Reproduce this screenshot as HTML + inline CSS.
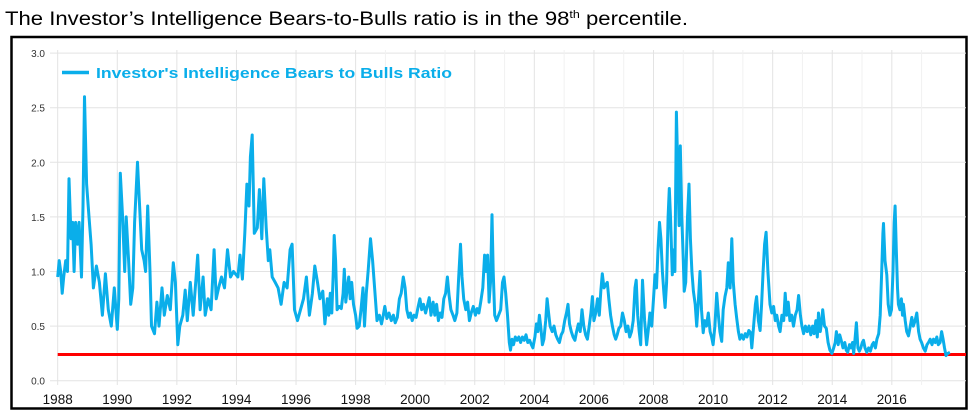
<!DOCTYPE html>
<html><head><meta charset="utf-8"><style>
html,body{margin:0;padding:0;background:#fff;}
svg{display:block;font-family:"Liberation Sans",Arial,sans-serif;}
</style></head><body>
<svg id="chart" width="970" height="415" viewBox="0 0 970 415">
<text x="5" y="25" font-size="19.5" fill="#000" textLength="683" lengthAdjust="spacingAndGlyphs">The Investor’s Intelligence Bears-to-Bulls ratio is in the 98<tspan font-size="11" dy="-7">th</tspan><tspan dy="7"> percentile.</tspan></text>
<rect x="11.5" y="37" width="955" height="371.5" fill="#fff" stroke="#000" stroke-width="2.5"/>
<g id="grid"></g><g id="axes"></g><g id="series"></g>
<g>
<line x1="62" y1="72.5" x2="89" y2="72.5" stroke="#0aaeea" stroke-width="3.5"/>
<text x="96" y="78" font-size="14.5" font-weight="bold" fill="#0aaeea" textLength="356" lengthAdjust="spacingAndGlyphs">Investor's Intelligence Bears to Bulls Ratio</text>
</g>
</svg>
<script>
const dates=[1988.0,1988.05,1988.1,1988.15,1988.2,1988.27,1988.33,1988.38,1988.45,1988.5,1988.55,1988.6,1988.67,1988.72,1988.8,1988.85,1988.9,1988.97,1989.05,1989.12,1989.2,1989.3,1989.4,1989.5,1989.6,1989.7,1989.8,1989.9,1990.0,1990.05,1990.1,1990.18,1990.25,1990.3,1990.38,1990.45,1990.52,1990.58,1990.68,1990.75,1990.82,1990.9,1990.95,1991.02,1991.1,1991.15,1991.25,1991.33,1991.4,1991.5,1991.58,1991.68,1991.78,1991.88,1991.95,1992.03,1992.1,1992.2,1992.28,1992.35,1992.45,1992.55,1992.62,1992.7,1992.78,1992.88,1992.95,1993.05,1993.15,1993.25,1993.32,1993.4,1993.5,1993.6,1993.7,1993.8,1993.9,1994.05,1994.12,1994.2,1994.28,1994.35,1994.42,1994.47,1994.53,1994.6,1994.7,1994.77,1994.85,1994.92,1995.0,1995.07,1995.12,1995.2,1995.3,1995.4,1995.5,1995.6,1995.7,1995.8,1995.87,1995.95,1996.05,1996.15,1996.25,1996.35,1996.45,1996.55,1996.63,1996.72,1996.8,1996.9,1996.97,
1997.05,1997.1,1997.15,1997.2,1997.25,1997.28,1997.33,1997.38,1997.45,1997.52,1997.58,1997.62,1997.67,1997.72,1997.77,1997.82,1997.87,1997.93,1998.0,1998.05,1998.12,1998.18,1998.25,1998.3,1998.36,1998.42,1998.5,1998.57,1998.65,1998.72,1998.8,1998.87,1998.93,1998.98,1999.05,1999.12,1999.2,1999.27,1999.33,1999.4,1999.47,1999.53,1999.6,1999.66,1999.72,1999.78,1999.84,1999.9,1999.96,2000.03,2000.1,2000.16,2000.22,2000.28,2000.35,2000.42,2000.47,2000.53,2000.6,2000.66,2000.72,2000.78,2000.84,2000.9,2000.96,2001.02,2001.08,2001.14,2001.2,2001.27,2001.33,2001.4,2001.46,2001.52,2001.57,2001.63,2001.7,2001.76,2001.82,2001.88,2001.95,2002.02,2002.08,2002.14,2002.2,2002.27,2002.33,2002.38,2002.43,2002.48,2002.53,2002.58,2002.62,2002.67,2002.73,2002.8,2002.87,2002.93,2002.98,2003.04,2003.1,2003.16,2003.2,2003.25,2003.3,2003.36,2003.42,2003.48,2003.54,2003.6,2003.66,2003.72,2003.78,2003.84,2003.9,2003.95,2004.02,2004.07,2004.12,2004.17,2004.22,2004.27,2004.32,2004.38,2004.43,2004.48,2004.53,2004.6,2004.66,2004.72,2004.78,2004.84,2004.9,2004.96,2005.02,2005.08,2005.13,2005.18,2005.24,2005.3,2005.36,2005.42,2005.48,2005.54,2005.6,2005.66,2005.72,2005.78,2005.84,2005.9,2005.95,2006.0,2006.06,2006.12,2006.18,2006.23,2006.28,2006.34,2006.4,2006.45,2006.5,2006.56,2006.62,2006.68,2006.73,2006.78,2006.84,2006.9,2006.96,2007.02,2007.08,2007.14,2007.2,2007.26,2007.32,2007.38,2007.42,2007.47,2007.52,2007.57,
2007.63,2007.7,2007.77,2007.82,2007.88,2007.94,2008.0,2008.05,2008.1,2008.15,2008.2,2008.25,2008.3,2008.35,2008.39,2008.44,2008.49,2008.53,2008.57,2008.63,2008.68,2008.72,2008.77,2008.81,2008.86,2008.9,2008.95,2009.0,2009.03,2009.08,2009.14,2009.19,2009.24,2009.29,2009.34,2009.4,2009.45,2009.5,2009.56,2009.61,2009.67,2009.72,2009.78,2009.84,2009.9,2009.95,2010.0,2010.06,2010.12,2010.18,2010.23,2010.29,2010.34,2010.4,2010.46,2010.51,2010.57,2010.63,2010.68,2010.74,2010.79,2010.85,2010.9,2010.96,2011.02,2011.08,2011.14,2011.2,2011.26,2011.3,2011.36,2011.42,2011.46,2011.52,2011.58,2011.63,2011.68,2011.73,2011.78,2011.84,2011.91,2011.97,2012.03,2012.09,2012.14,2012.2,2012.25,2012.31,2012.37,2012.42,2012.47,2012.52,2012.58,2012.64,2012.7,2012.76,2012.82,2012.87,2012.93,2012.98,2013.04,2013.1,2013.16,2013.22,2013.28,2013.34,2013.39,2013.45,2013.5,2013.54,2013.6,2013.65,2013.68,2013.74,2013.8,2013.86,2013.92,2013.99,2014.05,2014.1,2014.14,2014.2,2014.25,2014.3,2014.36,2014.42,2014.47,2014.52,2014.58,2014.63,2014.68,2014.72,2014.77,2014.81,2014.86,2014.91,2014.96,2015.01,2015.05,2015.1,2015.16,2015.22,2015.28,2015.34,2015.39,2015.45,2015.5,2015.56,2015.61,2015.66,2015.7,2015.72,2015.77,2015.83,2015.88,2015.94,2015.99,2016.04,2016.08,2016.11,2016.15,2016.19,2016.22,2016.27,2016.32,2016.36,2016.39,2016.45,2016.5,2016.56,2016.62,2016.67,2016.72,2016.78,2016.84,2016.9,2016.95,2017.0,2017.06,2017.12,2017.18,2017.23,2017.29,2017.35,2017.4,2017.46,2017.51,2017.56,2017.62,2017.67,2017.72,2017.77,2017.82,2017.88,2017.95];
const ratios=[0.95,1.1,1.0,0.8,0.95,1.1,1.0,1.85,1.3,1.45,1.0,1.45,1.25,1.45,0.95,1.6,2.6,1.8,1.5,1.25,0.85,1.05,0.9,0.6,0.98,0.65,0.5,0.85,0.47,0.75,1.9,1.5,1.0,1.5,1.1,0.7,0.85,1.45,2.0,1.6,1.2,1.1,1.0,1.6,1.0,0.5,0.43,0.72,0.5,0.85,0.6,0.78,0.65,1.08,0.9,0.33,0.5,0.6,0.83,0.55,0.9,0.6,0.85,1.15,0.65,0.95,0.6,0.75,0.65,1.2,0.75,0.85,0.95,0.85,1.2,0.95,1.0,0.95,1.15,0.93,1.35,1.8,1.6,2.05,2.25,1.35,1.4,1.75,1.3,1.85,1.4,1.1,1.2,0.95,0.9,0.85,0.7,0.9,0.85,1.2,1.25,0.65,0.55,0.65,0.75,0.95,0.6,0.8,1.05,0.9,0.75,0.82,0.52,
0.75,0.6,0.8,0.62,1.0,1.33,1.1,0.65,0.68,0.66,0.8,1.02,0.72,0.85,0.95,0.75,0.9,0.7,0.6,0.48,0.5,0.65,0.85,0.5,0.8,1.0,1.3,1.1,0.8,0.55,0.6,0.52,0.6,0.68,0.57,0.62,0.55,0.6,0.53,0.58,0.75,0.8,0.95,0.85,0.65,0.58,0.62,0.55,0.6,0.58,0.68,0.75,0.65,0.7,0.62,0.7,0.76,0.6,0.72,0.6,0.7,0.55,0.62,0.58,0.75,0.8,0.95,0.78,0.65,0.6,0.55,0.62,0.95,1.25,0.95,0.75,0.65,0.72,0.55,0.62,0.68,0.6,0.66,0.62,0.72,0.85,1.15,1.0,1.15,0.72,0.9,1.52,1.0,0.6,0.55,0.6,0.65,0.9,0.95,0.8,0.6,0.35,0.28,0.38,0.33,0.4,0.37,0.4,0.35,0.4,0.37,0.42,0.35,0.37,0.33,0.3,0.4,0.52,0.45,0.6,0.48,0.33,0.38,0.55,0.75,0.62,0.5,0.45,0.5,0.42,0.38,0.35,0.42,0.45,0.55,0.62,0.7,0.52,0.45,0.4,0.37,0.45,0.52,0.45,0.65,0.5,0.42,0.38,0.5,0.62,0.77,0.55,0.62,0.75,0.6,0.82,0.98,0.85,0.88,0.9,0.75,0.6,0.5,0.42,0.38,0.42,0.48,0.5,0.62,0.55,0.45,0.5,0.4,0.45,0.55,0.85,0.92,0.6,0.45,0.33,
0.92,0.55,0.33,0.45,0.62,0.5,0.75,0.97,0.85,1.2,1.45,1.3,1.0,0.8,0.67,0.9,1.5,1.76,1.5,0.97,1.2,1.0,2.46,2.0,1.42,2.15,1.5,1.1,0.82,0.9,1.5,1.8,1.3,1.0,0.82,0.7,0.5,0.7,1.0,0.65,0.44,0.55,0.5,0.62,0.45,0.4,0.33,0.5,0.8,0.6,0.45,0.36,0.65,0.77,0.85,1.08,0.85,1.3,0.9,0.7,0.58,0.45,0.38,0.42,0.38,0.43,0.4,0.46,0.44,0.3,0.5,0.7,0.77,0.55,0.46,0.7,1.0,1.25,1.36,1.0,0.7,0.62,0.68,0.55,0.6,0.5,0.45,0.6,0.55,0.8,0.6,0.72,0.55,0.6,0.5,0.6,0.65,0.78,0.6,0.5,0.43,0.5,0.45,0.5,0.42,0.5,0.43,0.55,0.4,0.62,0.45,0.55,0.65,0.5,0.48,0.35,0.28,0.25,0.3,0.35,0.45,0.33,0.42,0.37,0.3,0.35,0.28,0.26,0.33,0.3,0.35,0.25,0.4,0.53,0.3,0.27,0.3,0.35,0.37,0.3,0.26,0.3,0.27,0.33,0.35,0.3,0.38,0.43,0.6,1.0,1.35,1.44,1.1,0.97,0.7,0.6,0.65,1.0,1.45,1.6,1.2,0.85,0.7,0.65,0.75,0.6,0.7,0.55,0.45,0.41,0.5,0.58,0.5,0.55,0.62,0.45,0.38,0.35,0.3,0.27,0.33,0.35,0.38,0.33,0.38,0.35,0.4,0.33,0.35,0.45,0.38,0.3,0.23,0.25,0.26];
const yTicks=[0,0.5,1,1.5,2,2.5,3];
const yTickLabels=["0.0","0.5","1.0","1.5","2.0","2.5","3.0"];
const xTicks=[1988,1990,1992,1994,1996,1998,2000,2002,2004,2006,2008,2010,2012,2014,2016];
const threshold=[0.24];

const NS="http://www.w3.org/2000/svg";
const X0=57.7,PX=29.79,Y0=380.7,PY=109.2;
function xs(t){return X0+(t-1988)*PX;}
function ys(v){return Y0-v*PY;}
function mk(tag,attrs,parent){const e=document.createElementNS(NS,tag);for(const k in attrs)e.setAttribute(k,attrs[k]);parent.appendChild(e);return e;}
const grid=document.getElementById('grid'),axes=document.getElementById('axes'),series=document.getElementById('series');
yTicks.forEach((v,i)=>{
  const l=mk('line',{x1:50,x2:966,y1:ys(v),y2:ys(v),stroke:'#e3e3e3','stroke-width':1},grid);
  
  
  const t=mk('text',{x:45,y:ys(v)+4,'font-size':10,'text-anchor':'end',fill:'#333'},axes);
  t.textContent=yTickLabels[i];
  
  
});
xTicks.forEach(yr=>{
  const l=mk('line',{x1:xs(yr),x2:xs(yr),y1:50,y2:385,stroke:'#e3e3e3','stroke-width':1},grid);
  
  
  const t=mk('text',{x:xs(yr),y:404,'font-size':13.5,'text-anchor':'middle',fill:'#111'},axes);
  t.textContent=String(yr);
  
  
});
[1999,2001,2003,2005,2007,2009,2011,2013,2015,2017].forEach(yr=>{
  const l=mk('line',{x1:xs(yr),x2:xs(yr),y1:50,y2:385,stroke:'#f1f1f1','stroke-width':1},grid);
  
  
});
const rl=mk('line',{x1:xs(1988),x2:966,y1:ys(threshold[0]),y2:ys(threshold[0]),stroke:'#ff0000','stroke-width':3},series);


let d='';
dates.forEach((t,i)=>{d+=(i?'L':'M')+xs(t).toFixed(1)+','+ys(ratios[i]).toFixed(1);});
const p=mk('path',{d:d,fill:'none',stroke:'#0aaeea','stroke-width':3,'stroke-linejoin':'round'},series);


</script>
</body></html>
